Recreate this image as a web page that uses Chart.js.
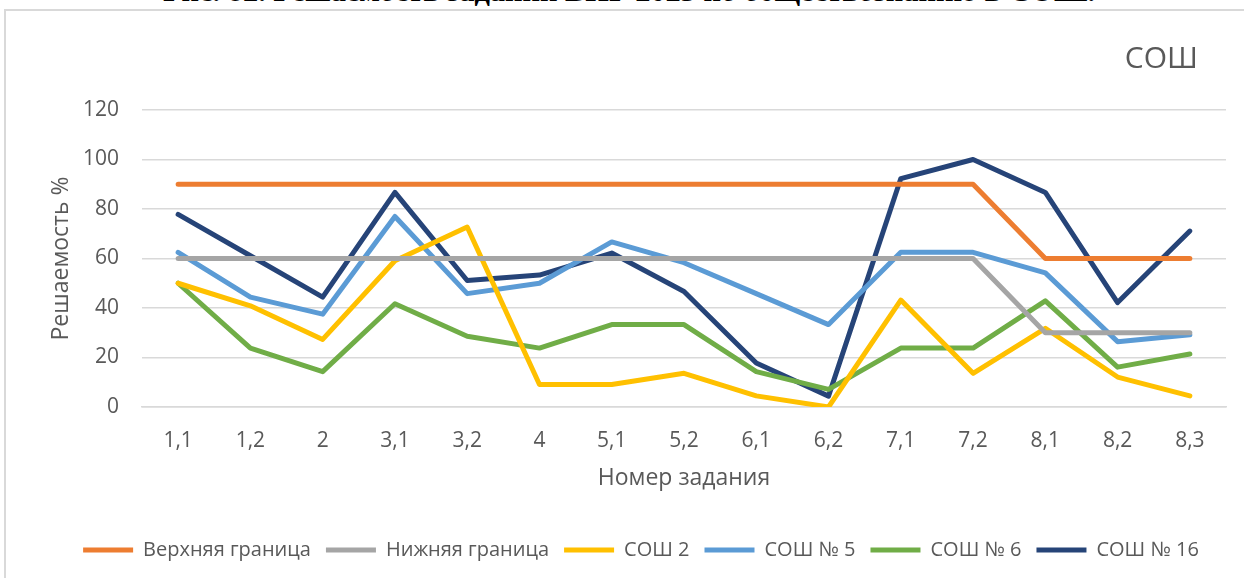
<!DOCTYPE html>
<html lang="ru">
<head>
<meta charset="utf-8">
<title>Решаемость заданий ВПР 2023 — СОШ</title>
<script src="https://cdn.jsdelivr.net/npm/chart.js@4/dist/chart.umd.min.js"></script>
<style>
  html, body { margin: 0; padding: 0; background: #ffffff; overflow: hidden; }
  body { width: 1244px; height: 578px; position: relative; }
  #caption {
    position: absolute; left: 163px; top: -24px;
    font: bold 30px "Liberation Serif", "DejaVu Serif", serif;
    line-height: 30px; color: #000; white-space: nowrap;
    transform-origin: 0 0;
  }
  #frame {
    position: absolute; left: 4px; top: 9px; width: 1400px; height: 800px;
    border-left: 2px solid #d9d9d9; border-top: 2px solid #d9d9d9;
  }
  #wrap { position: absolute; left: 0; top: 0; width: 1244px; height: 578px; }
</style>
</head>
<body>
<div id="caption">Рис. 82. Решаемость заданий ВПР 2023 по обществознанию в СОШ.</div>
<div id="frame"></div>
<div id="wrap"><canvas id="chart" width="1244" height="578"></canvas></div>
<script>
// Номера заданий
const tasks = ['1,1', '1,2', '2', '3,1', '3,2', '4', '5,1', '5,2', '6,1', '6,2', '7,1', '7,2', '8,1', '8,2', '8,3'];

// Границы решаемости, %
const upperBound = [90, 90, 90, 90, 90, 90, 90, 90, 90, 90, 90, 90, 60, 60, 60];
const lowerBound = [60, 60, 60, 60, 60, 60, 60, 60, 60, 60, 60, 60, 30, 30, 30];

// Решаемость по школам, %
const school2  = [50, 40.9, 27.3, 59.1, 72.7, 9.1, 9.1, 13.6, 4.5, 0, 43.2, 13.6, 31.8, 12.1, 4.5];
const school5  = [62.5, 44.4, 37.5, 77, 45.8, 50, 66.7, 58.3, 45.8, 33.3, 62.5, 62.5, 54.2, 26.4, 29.2];
const school6  = [50, 23.8, 14.3, 41.7, 28.6, 23.8, 33.3, 33.3, 14.3, 7.1, 23.8, 23.8, 42.9, 16.1, 21.4];
const school16 = [77.8, 61.1, 44.4, 86.7, 51.1, 53.3, 62.2, 46.7, 17.8, 4.4, 92.3, 100, 86.7, 42.2, 71.1];

// Шкала оси Y
const yTicks = [0, 20, 40, 60, 80, 100, 120];

const seriesNames  = ['Верхняя граница', 'Нижняя граница', 'СОШ 2', 'СОШ № 5', 'СОШ № 6', 'СОШ № 16'];
const seriesValues = [upperBound, lowerBound, school2, school5, school6, school16];
const seriesColors = ['#ED7D31', '#A5A5A5', '#FFC000', '#5B9BD5', '#70AD47', '#264478'];

const textColor = '#595959';
const baseFont = '"Open Sans", "DejaVu Sans", sans-serif';

// Подпись над рамкой диаграммы: подгоняем ширину строки
(function fitCaption() {
  const el = document.getElementById('caption');
  const w = el.getBoundingClientRect().width;
  el.style.transform = 'scaleX(' + (932 / w) + ')';
})();

// Заголовок «СОШ» в правом верхнем углу
const cornerTitle = {
  id: 'cornerTitle',
  afterDraw(chart) {
    const ctx = chart.ctx;
    ctx.save();
    ctx.font = '30px ' + baseFont;
    ctx.fillStyle = textColor;
    ctx.textAlign = 'right';
    ctx.textBaseline = 'middle';
    ctx.fillText('СОШ', 1198, 59);
    ctx.restore();
  }
};

new Chart(document.getElementById('chart'), {
  type: 'line',
  data: {
    labels: tasks,
    datasets: seriesNames.map((name, i) => ({
      label: name,
      data: seriesValues[i],
      borderColor: seriesColors[i],
      backgroundColor: seriesColors[i],
      borderWidth: 5,
      borderCapStyle: 'round',
      borderJoinStyle: 'round',
      pointRadius: 0,
      pointHoverRadius: 0,
      tension: 0,
      fill: false
    }))
  },
  options: {
    responsive: false,
    animation: false,
    events: [],
    layout: { padding: { left: 56, right: 18, top: 110, bottom: 8 } },
    scales: {
      x: {
        offset: true,
        grid: { display: false, drawTicks: false },
        border: { display: true, color: '#D9D9D9', width: 1.5 },
        ticks: { color: textColor, font: { family: baseFont, size: 21 }, padding: 21, maxRotation: 0, autoSkip: false },
        title: { display: true, text: 'Номер задания', color: textColor, font: { family: baseFont, size: 23 }, padding: { top: 0, bottom: 33 } },
        afterFit(scale) { scale.height = 118; }
      },
      y: {
        min: yTicks[0],
        max: yTicks[yTicks.length - 1],
        afterBuildTicks(scale) { scale.ticks = yTicks.map(v => ({ value: v })); },
        grid: { color: '#D9D9D9', lineWidth: 1.5, drawTicks: false },
        border: { display: false },
        ticks: { color: textColor, font: { family: baseFont, size: 21 }, padding: 23 },
        title: { display: true, text: 'Решаемость %', color: textColor, font: { family: baseFont, size: 23 }, padding: { top: -8, bottom: 0 } },
        afterFit(scale) { scale.width = 86; }
      }
    },
    plugins: {
      legend: {
        position: 'bottom',
        labels: {
          usePointStyle: true,
          pointStyle: 'line',
          pointStyleWidth: 50,
          padding: 15,
          color: textColor,
          font: { family: baseFont, size: 20 }
        }
      },
      title: { display: false },
      tooltip: { enabled: false }
    }
  },
  plugins: [cornerTitle]
});
</script>
</body>
</html>
